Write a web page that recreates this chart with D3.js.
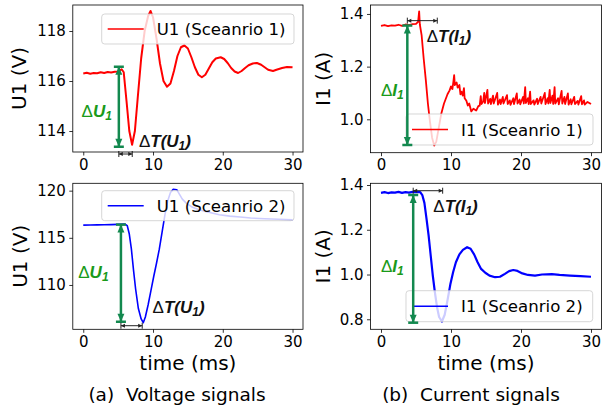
<!DOCTYPE html>
<html><head><meta charset="utf-8">
<script src="https://cdn.jsdelivr.net/npm/d3@7"></script>
<style>body{margin:0;background:#fff}svg{display:block}</style>
</head><body><svg id="c" width="603" height="413"></svg>
<script>
// ---------- DATA ----------
const xTicks = [0, 10, 20, 30];
const yTicksU1S1 = [114, 116, 118];
const yTicksI1S1 = [1.0, 1.2, 1.4];
const yTicksU1S2 = [110, 115, 120];
const yTicksI1S2 = [0.8, 1.0, 1.2, 1.4];

// time (ms), value
const u1Scenario1 = [[0,116.30],[0.5,116.33],[1,116.29],[1.5,116.32],[2,116.31],[2.5,116.35],[3,116.32],[3.5,116.36],[4,116.34],[4.5,116.37],[5,116.38],[5.5,116.47],[5.8,116.35],[6.2,115.2],[6.6,114.0],[7.0,113.45],[7.4,114.0],[7.8,115.3],[8.3,116.9],[8.8,118.0],[9.3,118.6],[9.65,118.8],[10.0,118.55],[10.5,117.7],[11.0,116.7],[11.5,116.0],[12.0,115.77],[12.5,115.9],[13.0,116.4],[13.5,117.0],[14.0,117.35],[14.5,117.42],[15.0,117.3],[15.5,116.95],[16.0,116.55],[16.5,116.25],[17.0,116.15],[17.5,116.25],[18.0,116.5],[18.5,116.75],[19.0,116.9],[19.7,116.95],[20.2,116.88],[20.7,116.72],[21.2,116.52],[21.7,116.38],[22.2,116.32],[22.7,116.4],[23.2,116.52],[23.7,116.63],[24.3,116.7],[24.9,116.72],[25.5,116.65],[26.0,116.55],[26.5,116.45],[27.2,116.4],[27.7,116.45],[28.5,116.52],[29.2,116.56],[30,116.55]];

const i1Scenario1 = [[0,1.355],[0.5,1.358],[1,1.354],[1.5,1.357],[2,1.356],[2.5,1.359],[3,1.355],[3.5,1.36],[4,1.358],[4.5,1.361],[5,1.362],[5.3,1.37],[5.45,1.41],[5.55,1.36],[5.8,1.32],[6.1,1.23],[6.4,1.15],[6.7,1.06],[7.0,0.99],[7.3,0.93],[7.6,0.90],[7.9,0.915],[8.2,0.96],[8.6,1.02],[9.0,1.06],[9.5,1.095],[9.8,1.11],[10.0,1.125],[10.2,1.115],[10.35,1.145],[10.45,1.168],[10.55,1.13],[10.8,1.14],[10.95,1.12],[11.2,1.13],[11.35,1.095],[11.5,1.105],[11.67,1.09],[11.85,1.118],[11.95,1.08],[12.2,1.07],[12.4,1.052],[12.6,1.06],[12.9,1.03],[13.2,1.04],[13.6,1.033],[13.9,1.05],[14.1,1.052],[14.25,1.088],[14.35,1.058],[14.6,1.068],[14.75,1.1],[14.85,1.062],[15.2,1.112],[15.3,1.06],[15.6,1.078],[15.7,1.058],[16.0,1.09],[16.1,1.06],[16.6,1.1],[16.7,1.056],[17.0,1.075],[17.1,1.058],[17.4,1.085],[17.5,1.06],[18.0,1.092],[18.1,1.058],[18.4,1.072],[18.5,1.055],[18.9,1.08],[19.0,1.058],[19.4,1.098],[19.5,1.06],[19.8,1.075],[19.9,1.057],[20.3,1.085],[20.4,1.06],[20.6,1.122],[20.7,1.062],[21.0,1.08],[21.1,1.058],[21.3,1.105],[21.4,1.058],[21.8,1.072],[21.9,1.056],[22.3,1.078],[22.4,1.058],[22.8,1.085],[22.9,1.06],[23.4,1.1],[23.5,1.058],[23.8,1.08],[23.9,1.06],[24.1,1.112],[24.2,1.062],[24.5,1.09],[24.6,1.058],[24.8,1.122],[24.9,1.06],[25.3,1.08],[25.4,1.057],[25.8,1.108],[25.9,1.06],[26.2,1.085],[26.3,1.058],[26.7,1.098],[26.8,1.056],[27.1,1.076],[27.2,1.057],[27.6,1.085],[27.7,1.058],[28.1,1.07],[28.2,1.056],[28.6,1.088],[28.7,1.057],[29.0,1.072],[29.1,1.056],[29.5,1.066],[30,1.058]];

const u1Scenario2 = [[0,116.35],[1,116.36],[2,116.37],[3,116.38],[4,116.4],[5,116.42],[6.0,116.45],[6.3,116.3],[6.6,115.4],[6.9,113.8],[7.2,111.6],[7.5,109.6],[7.9,107.5],[8.3,106.4],[8.6,106.0],[8.9,106.6],[9.3,107.9],[9.7,109.4],[10.1,110.9],[10.5,112.3],[10.9,113.8],[11.3,115.6],[11.7,117.4],[12.1,118.9],[12.5,119.8],[12.9,120.15],[13.4,120.1],[13.8,119.6],[14.2,119.1],[14.8,118.65],[15.5,118.3],[16.5,118.0],[17.5,117.8],[18.6,117.6],[19.5,117.45],[21,117.3],[22.5,117.2],[24,117.1],[26,117.02],[28,116.97],[30,116.9]];

const i1Scenario2 = [[0,1.365],[0.5,1.368],[1,1.364],[1.5,1.367],[2,1.366],[2.5,1.369],[3,1.365],[3.5,1.368],[4,1.366],[4.5,1.369],[5,1.368],[5.6,1.368],[5.9,1.355],[6.2,1.32],[6.5,1.25],[6.8,1.175],[7.1,1.085],[7.4,0.995],[7.7,0.92],[8.0,0.855],[8.3,0.81],[8.7,0.79],[9.1,0.82],[9.5,0.885],[9.9,0.955],[10.3,1.01],[10.7,1.055],[11.2,1.09],[11.7,1.11],[12.3,1.122],[12.8,1.115],[13.3,1.09],[13.8,1.055],[14.3,1.025],[14.9,1.008],[15.5,0.995],[16.3,0.988],[17.0,0.99],[17.7,1.003],[18.3,1.015],[18.9,1.02],[19.5,1.016],[20.2,1.005],[21.0,0.998],[22,0.995],[23,1.0],[24.4,1.002],[25.5,0.998],[27,0.995],[28.5,0.993],[30,0.99]];

const legendLabels = ["U1 (Sceanrio 1)", "I1 (Sceanrio 1)", "U1 (Sceanrio 2)", "I1 (Sceanrio 2)"];
const yLabels = ["U1 (V)", "I1 (A)", "U1 (V)", "I1 (A)"];
const xLabel = "time (ms)";
const captions = ["(a)  Voltage signals", "(b)  Current signals"];

// ---------- DRAW ----------
const svg = d3.select('#c');
const TICKFONT = "'DejaVu Sans', sans-serif";
const ANNFONT = "'Liberation Sans', Arial, sans-serif";
const GREEN_LINE = "#13894f";
const GREEN_TEXT = "#1a9a1a";

const defs = svg.append('defs');

const panels = [
  {data: u1Scenario1, color: "red", sw: 2.0, left: 72.8, right: 303, top: 5, bottom: 152, yDomain: [113.16, 119.04], yTicks: yTicksU1S1, fmt: d3.format("d"), legend: legendLabels[0], ylab: yLabels[0], ylabX: 19,
   legBox: [101.7, 14, 192.3, 30], xlab: false,
   dA: {t: 5.1, v1: 116.57, v2: 113.37}, dAText: {t: -0.25, v: 114.56, q: "U"},
   dT: {t1: 5.1, t2: 7.02, v: 113.08}, dTText: {t: 7.98, v: 113.37, q: "U"}},
  {data: i1Scenario1, color: "red", sw: 1.8, left: 370.5, right: 601.5, top: 5, bottom: 152.7, yDomain: [0.8732, 1.434], yTicks: yTicksI1S1, fmt: d3.format(".1f"), legend: legendLabels[1], ylab: yLabels[1], ylabX: 323,
   legBox: [406, 114, 187, 31], xlab: false,
   dA: {t: 3.76, v1: 1.356, v2: 0.9025}, dAText: {t: 0, v: 1.0886, q: "I"},
   dT: {t1: 3.76, t2: 8.04, v: 1.3746}, dTText: {t: 6.53, v: 1.295, q: "I"}},
  {data: u1Scenario2, color: "blue", sw: 1.6, left: 72.8, right: 303, top: 183.3, bottom: 329.3, yDomain: [105.3, 120.78], yTicks: yTicksU1S2, fmt: d3.format("d"), legend: legendLabels[2], ylab: yLabels[2], ylabX: 19.5,
   legBox: [101.7, 190.7, 192.3, 30], xlab: true,
   dA: {t: 5.4, v1: 116.4, v2: 106.1}, dAText: {t: -0.72, v: 110.71, q: "U"},
   dT: {t1: 5.4, t2: 8.45, v: 105.68}, dTText: {t: 9.94, v: 107.06, q: "U"}},
  {data: i1Scenario2, color: "blue", sw: 2.2, left: 370.5, right: 601.5, top: 183.3, bottom: 329.3, yDomain: [0.7552, 1.4076], yTicks: yTicksI1S2, fmt: d3.format(".1f"), legend: legendLabels[3], ylab: yLabels[3], ylabX: 323.3,
   legBox: [406, 290.7, 186.7, 31], xlab: true,
   dA: {t: 4.6, v1: 1.3553, v2: 0.7847}, dAText: {t: 0, v: 1.0126, q: "I"},
   dT: {t1: 4.6, t2: 8.81, v: 1.3745}, dTText: {t: 7.47, v: 1.2807, q: "I"}}
];

function deltaText(g, x, y, q, paren, color) {
  const t = g.append('text').attr('x', x).attr('y', y)
    .attr('font-family', ANNFONT).attr('font-size', 17).attr('fill', color);
  t.append('tspan').attr('font-weight', 'normal').text('Δ');
  t.append('tspan').attr('font-weight', 'bold').attr('font-style', 'italic').text(paren ? 'T(' + q : q);
  t.append('tspan').attr('font-weight', 'bold').attr('font-style', 'italic')
    .attr('font-size', 12).attr('dy', 3).text('1');
  if (paren) {
    t.append('tspan').attr('font-weight', 'bold').attr('font-style', 'italic')
      .attr('dy', -3).text(')');
  }
}

panels.forEach((p, i) => {
  const x = d3.scaleLinear().domain([-1.5, 31.5]).range([p.left, p.right]);
  const y = d3.scaleLinear().domain(p.yDomain).range([p.bottom, p.top]);
  const g = svg.append('g');

  const clipId = 'clip' + i;
  defs.append('clipPath').attr('id', clipId).append('rect')
    .attr('x', p.left).attr('y', p.top).attr('width', p.right - p.left).attr('height', p.bottom - p.top);

  const line = d3.line().x(d => x(d[0])).y(d => y(d[1]));
  g.append('path').datum(p.data).attr('clip-path', `url(#${clipId})`)
    .attr('d', line).attr('fill', 'none').attr('stroke', p.color)
    .attr('stroke-width', p.sw).attr('stroke-linejoin', 'round');

  // legend
  const [lx, ly, lw, lh] = p.legBox;
  g.append('rect').attr('x', lx).attr('y', ly).attr('width', lw).attr('height', lh)
    .attr('rx', 3).attr('fill', 'white').attr('fill-opacity', 0.8)
    .attr('stroke', '#cccccc').attr('stroke-opacity', 0.8).attr('stroke-width', 1);
  g.append('line').attr('x1', lx + 6).attr('x2', lx + 42).attr('y1', ly + lh / 2).attr('y2', ly + lh / 2)
    .attr('stroke', p.color).attr('stroke-width', 1.5);
  g.append('text').attr('x', lx + 55).attr('y', ly + lh / 2 + 6)
    .attr('font-family', TICKFONT).attr('font-size', 16.6).attr('fill', '#000').text(p.legend);

  // green vertical double arrow with bars
  const ax = x(p.dA.t), ay1 = y(p.dA.v1), ay2 = y(p.dA.v2);
  const ga = g.append('g').attr('stroke', GREEN_LINE).attr('fill', GREEN_LINE);
  ga.append('line').attr('x1', ax).attr('x2', ax).attr('y1', ay1).attr('y2', ay2).attr('stroke-width', 2.5);
  ga.append('line').attr('x1', ax - 5).attr('x2', ax + 5).attr('y1', ay1).attr('y2', ay1).attr('stroke-width', 2.5);
  ga.append('line').attr('x1', ax - 5).attr('x2', ax + 5).attr('y1', ay2).attr('y2', ay2).attr('stroke-width', 2.5);
  ga.append('path').attr('stroke', 'none')
    .attr('d', `M${ax},${ay1} L${ax - 3.5},${ay1 + 8} L${ax + 3.5},${ay1 + 8} Z`);
  ga.append('path').attr('stroke', 'none')
    .attr('d', `M${ax},${ay2} L${ax - 3.5},${ay2 - 8} L${ax + 3.5},${ay2 - 8} Z`);
  deltaText(g, x(p.dAText.t), y(p.dAText.v), p.dAText.q, false, GREEN_TEXT);

  // black horizontal double arrow
  const bx1 = x(p.dT.t1), bx2 = x(p.dT.t2), by = y(p.dT.v);
  const ba = g.append('g').attr('stroke', '#222').attr('fill', '#222');
  ba.append('line').attr('x1', bx1).attr('x2', bx2).attr('y1', by).attr('y2', by).attr('stroke-width', 1);
  ba.append('line').attr('x1', bx1).attr('x2', bx1).attr('y1', by - 3).attr('y2', by + 3).attr('stroke-width', 1);
  ba.append('line').attr('x1', bx2).attr('x2', bx2).attr('y1', by - 3).attr('y2', by + 3).attr('stroke-width', 1);
  ba.append('path').attr('stroke', 'none').attr('d', `M${bx1},${by} L${bx1 + 4},${by - 2} L${bx1 + 4},${by + 2} Z`);
  ba.append('path').attr('stroke', 'none').attr('d', `M${bx2},${by} L${bx2 - 4},${by - 2} L${bx2 - 4},${by + 2} Z`);
  deltaText(g, x(p.dTText.t), y(p.dTText.v), p.dTText.q, true, '#111');

  // frame
  g.append('rect').attr('x', p.left).attr('y', p.top).attr('width', p.right - p.left).attr('height', p.bottom - p.top)
    .attr('fill', 'none').attr('stroke', '#000').attr('stroke-width', 0.8);

  // axes
  const xa = g.append('g').attr('transform', `translate(0,${p.bottom})`)
    .call(d3.axisBottom(x).tickValues(xTicks).tickSize(3.5).tickPadding(3.5).tickFormat(d3.format('d')));
  const ya = g.append('g').attr('transform', `translate(${p.left},0)`)
    .call(d3.axisLeft(y).tickValues(p.yTicks).tickSize(3.5).tickPadding(3.5).tickFormat(p.fmt));
  [xa, ya].forEach(a => {
    a.select('.domain').remove();
    a.selectAll('line').attr('stroke', '#000').attr('stroke-width', 0.8);
    a.selectAll('text').attr('font-family', TICKFONT).attr('font-size', 15).attr('fill', '#000');
  });

  // y label
  const cy = (p.top + p.bottom) / 2;
  g.append('text').attr('transform', `translate(${p.ylabX},${cy}) rotate(-90)`)
    .attr('text-anchor', 'middle').attr('dy', '0.35em')
    .attr('font-family', TICKFONT).attr('font-size', 20).attr('fill', '#000').text(p.ylab);

  if (p.xlab) {
    g.append('text').attr('x', (p.left + p.right) / 2).attr('y', 370)
      .attr('text-anchor', 'middle').attr('font-family', TICKFONT).attr('font-size', 20).attr('fill', '#000').text(xLabel);
  }
});

// captions
svg.append('text').attr('x', 177).attr('y', 401).attr('text-anchor', 'middle')
  .attr('font-family', TICKFONT).attr('font-size', 18.5).attr('fill', '#000').style('white-space', 'pre').text(captions[0]);
svg.append('text').attr('x', 471).attr('y', 401).attr('text-anchor', 'middle')
  .attr('font-family', TICKFONT).attr('font-size', 18.5).attr('fill', '#000').style('white-space', 'pre').text(captions[1]);
</script>
</body></html>
